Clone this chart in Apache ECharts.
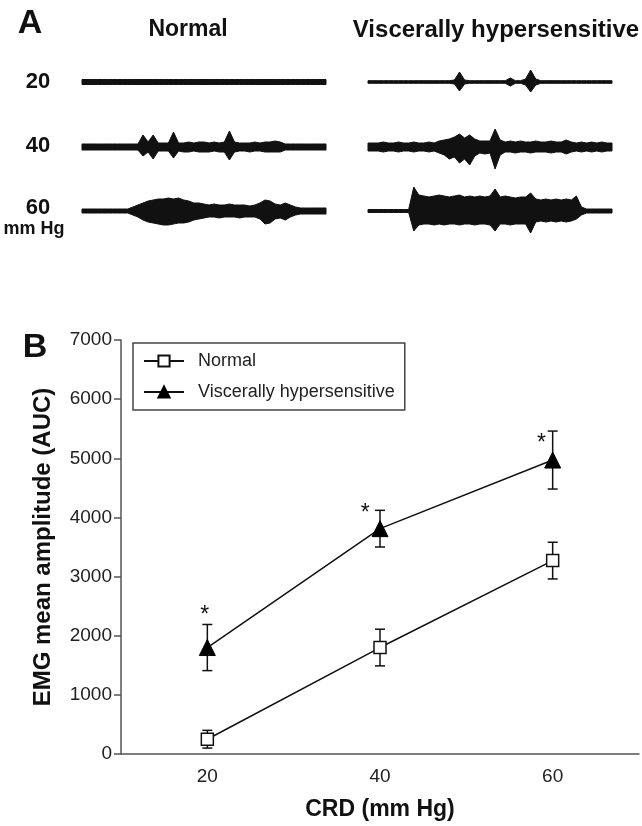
<!DOCTYPE html>
<html><head><meta charset="utf-8">
<script src="https://cdn.jsdelivr.net/npm/echarts/dist/echarts.min.js"></script>
<style>html,body{margin:0;padding:0;background:#fff}#c{width:642px;height:826px}</style>
</head><body><div id="c"></div><script>
// ---------- Panel B data ----------
const pressures = [20, 40, 60];
const normalMean = [250, 1800, 3270];
const normalErr = [150, 310, 310];
const hyperMean = [1800, 3810, 4970];
const hyperErr = [390, 310, 490];
const starPos = [[19.7, 2430], [38.3, 4140], [58.7, 5340]];
const xTickLabels = ['20', '40', '60'];
const seriesNames = ['Normal', 'Viscerally hypersensitive'];

// ---------- Panel A: EMG trace envelopes (half-amplitude above / below baseline) ----------
const normal20Up = [2.5,2.5,2.5,2.5,2.5,2.5,2.5,2.5,2.5,2.5,2.5,2.5,2.5,2.5,2.5,2.5,2.5,2.5,2.5,2.5,2.5,2.5,2.5,2.5,2.5,2.5,2.5,2.5,2.5,2.5,2.5,2.5,2.5,2.5,2.5,2.5,2.5,2.5,2.5,2.5,2.5,2.5,2.5,2.5,2.5,2.5,2.5,2.5,2.5];
const normal20Dn = [2.5,2.5,2.5,2.5,2.5,2.5,2.5,2.5,2.5,2.5,2.5,2.5,2.5,2.5,2.5,2.5,2.5,2.5,2.5,2.5,2.5,2.5,2.5,2.5,2.5,2.5,2.5,2.5,2.5,2.5,2.5,2.5,2.5,2.5,2.5,2.5,2.5,2.5,2.5,2.5,2.5,2.5,2.5,2.5,2.5,2.5,2.5,2.5,2.5];
const normal40Up = [3,3,3,3,3,3,3,3,3,3,3,3,12,5,12,4,4,4,15,4,4,5,4,5,5,4,5,4,5,16,5,4,4,4,5,4,5,5,6,5,3,3,3,3,3,3,3,3,3];
const normal40Dn = [3,3,3,3,3,3,3,3,3,3,3,3,9,5,12,4,4,4,11,4,5,5,4,5,5,5,4,5,5,13,5,4,4,5,4,4,5,5,5,5,3,3,3,3,3,3,3,3,3];
const normal60Up = [2,2,2,2,2,2,2,2,2,2,4,6,8,10,11,12,12,13,12,13,11,10,8,8,7,6,7,6,6,7,6,6,6,5,6,8,11,10,7,6,8,6,4,3,3,3,3,3,3];
const normal60Dn = [2,2,2,2,2,2,2,2,2,2,4,6,9,11,12,13,14,14,13,12,12,11,9,8,7,6,6,7,6,6,6,7,6,6,6,8,13,12,8,7,9,6,4,3,3,3,3,3,3];
const hyper20Up = [1.3,1.3,1.3,1.3,1.3,1.3,1.3,1.3,1.3,1.3,1.3,1.3,1.3,1.3,1.3,1.3,1.3,2,10,2,1.3,1.3,1.3,1.3,1.3,1.3,1.3,1.3,4,1.3,1.3,3,12,3,1.3,1.3,1.3,1.3,1.3,1.3,1.3,1.3,1.3,1.3,1.3,1.3,1.3,1.3,1.3];
const hyper20Dn = [1.3,1.3,1.3,1.3,1.3,1.3,1.3,1.3,1.3,1.3,1.3,1.3,1.3,1.3,1.3,1.3,1.3,2,9,2,1.3,1.3,1.3,1.3,1.3,1.3,1.3,1.3,4,1.3,1.3,3,10,3,1.3,1.3,1.3,1.3,1.3,1.3,1.3,1.3,1.3,1.3,1.3,1.3,1.3,1.3,1.3];
const hyper40Up = [4,4,4,5,4,4,5,4,4,5,4,4,5,4,6,7,8,10,13,9,12,8,6,6,6,18,7,5,6,5,6,5,5,6,5,5,6,5,5,7,5,4,5,4,5,4,5,4,4];
const hyper40Dn = [4,4,4,5,4,4,5,4,4,5,4,4,5,4,6,8,12,10,16,12,18,9,6,7,6,22,8,5,5,6,5,5,6,5,5,5,6,5,5,7,5,4,5,4,5,4,5,4,4];
const hyper60Up = [1.5,1.5,1.5,1.5,1.5,1.5,1.5,1.5,1.5,24,16,15,14,15,16,15,14,15,16,14,15,14,15,14,15,22,14,15,14,13,14,14,18,12,11,12,11,12,11,12,11,15,4,2,2,2,2,2,2];
const hyper60Dn = [1.5,1.5,1.5,1.5,1.5,1.5,1.5,1.5,1.5,20,14,13,13,14,13,14,13,13,14,13,13,14,13,13,14,20,13,13,14,13,13,13,22,11,10,11,10,11,10,11,10,8,4,2,2,2,2,2,2];

const traces = [
  {up: normal20Up, dn: normal20Dn, col: 0, row: 0},
  {up: normal40Up, dn: normal40Dn, col: 0, row: 1},
  {up: normal60Up, dn: normal60Dn, col: 0, row: 2},
  {up: hyper20Up, dn: hyper20Dn, col: 1, row: 0},
  {up: hyper40Up, dn: hyper40Dn, col: 1, row: 1},
  {up: hyper60Up, dn: hyper60Dn, col: 1, row: 2}
];

const FONT = 'Liberation Sans, Arial, Helvetica, sans-serif';
const colLeft = [82, 368];
const rowCenter = [82, 147, 211];
const traceW = 244;

const grids = [], xAxes = [], yAxes = [], series = [];
traces.forEach((t, i) => {
  grids.push({left: colLeft[t.col], top: rowCenter[t.row] - 30, width: traceW, height: 60});
  xAxes.push({type: 'value', gridIndex: i, min: 0, max: t.up.length - 1, show: false});
  yAxes.push({type: 'value', gridIndex: i, min: -30, max: 30, show: false});
  series.push({
    type: 'custom', xAxisIndex: i, yAxisIndex: i, silent: true,
    data: [[0, 0]],
    renderItem: function (params, api) {
      const pts = [];
      for (let k = 0; k < t.up.length; k++) pts.push(api.coord([k, t.up[k]]));
      for (let k = t.dn.length - 1; k >= 0; k--) pts.push(api.coord([k, -t.dn[k]]));
      return {type: 'polygon', shape: {points: pts}, style: {fill: '#111', stroke: '#111', lineWidth: 1}};
    }
  });
});

// Panel B grid
const gB = traces.length;
grids.push({left: 121, top: 340, right: -29, bottom: 65});
xAxes.push({
  type: 'value', gridIndex: gB, min: 10, max: 70, interval: 10,
  axisLine: {show: true, onZero: false, lineStyle: {color: '#555', width: 1.5}},
  axisTick: {show: false}, splitLine: {show: false},
  axisLabel: {
    fontFamily: FONT, fontSize: 19, color: '#222', margin: 13,
    formatter: v => (xTickLabels.indexOf(String(v)) >= 0 ? String(v) : '')
  },
  name: 'CRD (mm Hg)', nameLocation: 'middle', nameGap: 44,
  nameTextStyle: {fontFamily: FONT, fontSize: 23, fontWeight: 'bold', color: '#111'}
});
yAxes.push({
  type: 'value', gridIndex: gB, min: 0, max: 7000, interval: 1000,
  axisLine: {show: true, lineStyle: {color: '#555', width: 1.5}},
  axisTick: {show: true, inside: false, length: 7, lineStyle: {color: '#555', width: 1.5}},
  splitLine: {show: false},
  axisLabel: {fontFamily: FONT, fontSize: 19, color: '#222', margin: 9, formatter: v => String(v)},
  name: 'EMG mean amplitude (AUC)', nameLocation: 'middle', nameGap: 66,
  nameTextStyle: {fontFamily: FONT, fontSize: 24, fontWeight: 'bold', color: '#111'}
});

function errBarSeries(means, errs) {
  return {
    type: 'custom', xAxisIndex: gB, yAxisIndex: gB, silent: true, z: 3,
    data: pressures.map((p, i) => [p, means[i] - errs[i], means[i] + errs[i]]),
    renderItem: function (params, api) {
      const lo = api.coord([api.value(0), api.value(1)]);
      const hi = api.coord([api.value(0), api.value(2)]);
      const cap = 5;
      const st = {stroke: '#111', lineWidth: 1.5};
      return {type: 'group', children: [
        {type: 'line', shape: {x1: lo[0], y1: lo[1], x2: hi[0], y2: hi[1]}, style: st},
        {type: 'line', shape: {x1: lo[0] - cap, y1: lo[1], x2: lo[0] + cap, y2: lo[1]}, style: st},
        {type: 'line', shape: {x1: hi[0] - cap, y1: hi[1], x2: hi[0] + cap, y2: hi[1]}, style: st}
      ]};
    }
  };
}
series.push(errBarSeries(normalMean, normalErr));
series.push(errBarSeries(hyperMean, hyperErr));
series.push({
  name: seriesNames[0], type: 'line', xAxisIndex: gB, yAxisIndex: gB, z: 5,
  data: pressures.map((p, i) => [p, normalMean[i]]),
  symbol: 'rect', symbolSize: 12, showAllSymbol: true,
  lineStyle: {color: '#111', width: 1.5},
  itemStyle: {color: '#fff', borderColor: '#111', borderWidth: 1.5}
});
series.push({
  name: seriesNames[1], type: 'line', xAxisIndex: gB, yAxisIndex: gB, z: 5,
  data: pressures.map((p, i) => [p, hyperMean[i]]),
  symbol: 'triangle', symbolSize: 16, showAllSymbol: true,
  lineStyle: {color: '#111', width: 1.5},
  itemStyle: {color: '#000', borderColor: '#000', borderWidth: 1}
});
series.push({
  type: 'custom', xAxisIndex: gB, yAxisIndex: gB, silent: true, z: 6,
  data: starPos,
  renderItem: function (params, api) {
    const c = api.coord([api.value(0), api.value(1)]);
    return {type: 'text', x: c[0], y: c[1] + 5, style: {text: '*', fontSize: 23, fontFamily: FONT, fill: '#111', align: 'center', verticalAlign: 'middle'}};
  }
});

const bold = (txt, x, y, size, align) => ({
  type: 'text', x: x, y: y,
  style: {text: txt, fontFamily: FONT, fontWeight: 'bold', fontSize: size, fill: '#111', textAlign: align || 'center', textVerticalAlign: 'middle'}
});

const chart = echarts.init(document.getElementById('c'), null, {renderer: 'canvas'});
chart.setOption({
  backgroundColor: '#fff',
  animation: false,
  grid: grids, xAxis: xAxes, yAxis: yAxes, series: series,
  legend: {
    data: seriesNames, orient: 'vertical', left: 133, top: 343,
    padding: [9, 10, 9, 10], itemGap: 13, itemWidth: 40, itemHeight: 14,
    borderColor: '#444', borderWidth: 1.5, borderRadius: 0,
    textStyle: {fontFamily: FONT, fontSize: 18, color: '#222', padding: [0, 0, 0, 9]}
  },
  graphic: [
    bold('A', 30, 24, 34),
    bold('Normal', 188, 30, 23),
    bold('Viscerally hypersensitive', 496, 30, 24),
    bold('20', 38, 82, 22),
    bold('40', 38, 146, 22),
    bold('60', 38, 208, 22),
    bold('mm Hg', 34, 229, 18),
    bold('B', 35, 348, 34)
  ]
});
</script></body></html>
